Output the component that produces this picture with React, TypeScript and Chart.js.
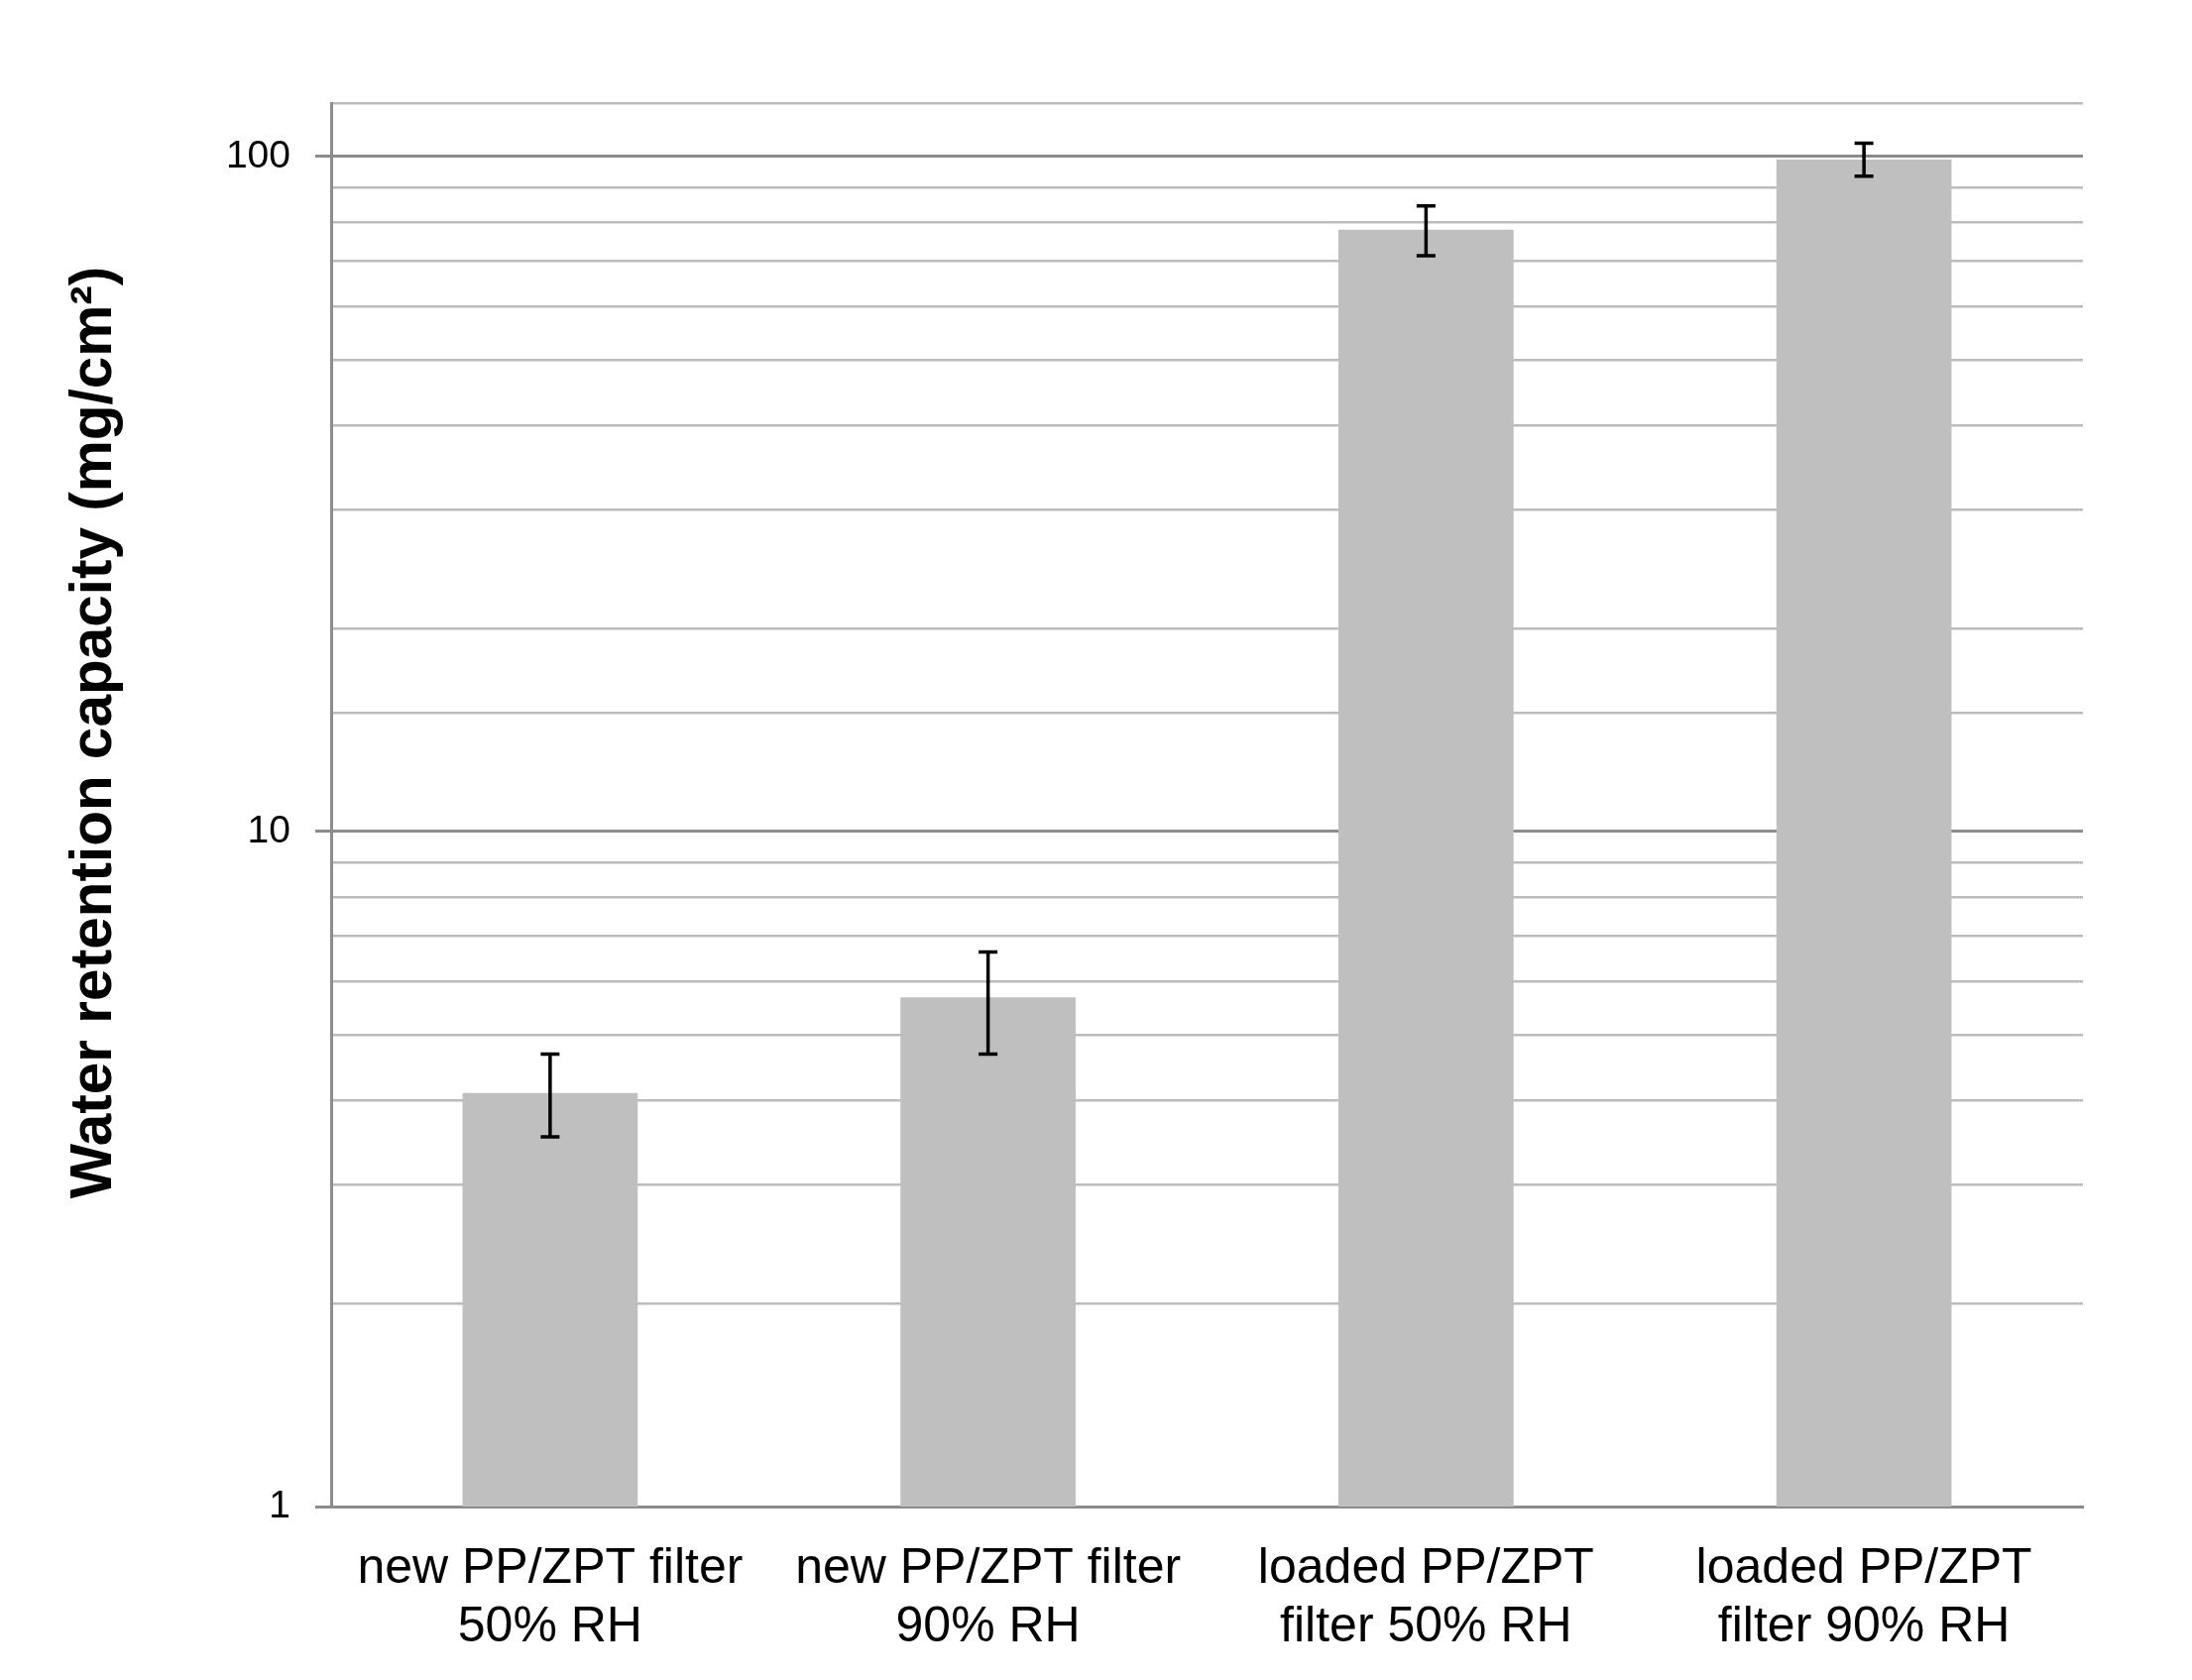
import React, { useEffect, useRef } from "react";
import { Chart, registerables } from "chart.js";

Chart.register(...registerables);

const categories: string[][] = [
  ["new PP/ZPT filter", "50% RH"],
  ["new PP/ZPT filter", "90% RH"],
  ["loaded PP/ZPT", "filter 50% RH"],
  ["loaded PP/ZPT", "filter 90% RH"],
];
const values: number[] = [4.1, 5.68, 77.9, 99.0];
const errLow: number[] = [3.53, 4.68, 71.3, 93.5];
const errHigh: number[] = [4.68, 6.63, 84.5, 104.6];
const yTickLabels: number[] = [1, 10, 100];
const yTitle = "Water retention capacity (mg/cm\u00B2)";

const FONT = "'Liberation Sans', Arial, sans-serif";
const MAJOR = "#8c8c8c";
const MINOR = "#bcbcbc";

const errorBarPlugin = {
  id: "errorBars",
  afterDatasetsDraw(chart: any) {
    const meta = chart.getDatasetMeta(0);
    const ys = chart.scales.y;
    const ctx = chart.ctx;
    ctx.save();
    ctx.strokeStyle = "#000";
    ctx.lineWidth = 3.5;
    meta.data.forEach((bar: any, i: number) => {
      const x = bar.x;
      const yh = ys.getPixelForValue(errHigh[i]);
      const yl = ys.getPixelForValue(errLow[i]);
      const cap = 9.5;
      ctx.beginPath();
      ctx.moveTo(x, yh);
      ctx.lineTo(x, yl);
      ctx.moveTo(x - cap, yh);
      ctx.lineTo(x + cap, yh);
      ctx.moveTo(x - cap, yl);
      ctx.lineTo(x + cap, yl);
      ctx.stroke();
    });
    ctx.restore();
  },
};

const titlePlugin = {
  id: "yTitle",
  afterDraw(chart: any) {
    const ctx = chart.ctx;
    ctx.save();
    ctx.translate(96, 739);
    ctx.rotate(-Math.PI / 2);
    ctx.font = `bold 58.5px ${FONT}`;
    ctx.fillStyle = "#000";
    ctx.textAlign = "center";
    ctx.textBaseline = "middle";
    ctx.fillText(yTitle, 0, 0);
    ctx.restore();
  },
};

export default function App() {
  const canvasRef = useRef<HTMLCanvasElement | null>(null);

  useEffect(() => {
    if (!canvasRef.current) return;
    const isMajor = (v: number) => yTickLabels.includes(v);
    const chart = new Chart(canvasRef.current, {
      type: "bar",
      data: {
        labels: categories,
        datasets: [
          {
            data: values,
            backgroundColor: "#bfbfbf",
            borderWidth: 0,
            barPercentage: 0.4,
            categoryPercentage: 1.0,
          },
        ],
      },
      options: {
        responsive: false,
        animation: false,
        layout: { padding: { left: 0, top: 104, right: 110, bottom: 0 } },
        plugins: {
          legend: { display: false },
          tooltip: { enabled: false },
        },
        scales: {
          x: {
            type: "category",
            grid: { display: false },
            border: { display: true, color: MAJOR, width: 3 },
            ticks: {
              color: "#000",
              padding: 26,
              maxRotation: 0,
              autoSkip: false,
              font: { family: FONT, size: 50, lineHeight: 1.18 },
            },
            afterFit(scale: any) {
              scale.height = 175;
            },
          },
          y: {
            type: "logarithmic",
            min: 1,
            max: 120,
            grid: {
              color: (c: any) => (c.tick && isMajor(c.tick.value) ? MAJOR : MINOR),
              lineWidth: (c: any) => (c.tick && isMajor(c.tick.value) ? 3 : 2.5),
              tickColor: (c: any) =>
                c.tick && isMajor(c.tick.value) ? MAJOR : "rgba(0,0,0,0)",
              tickLength: 16,
              tickWidth: 3,
              drawTicks: true,
            },
            border: { display: true, color: MAJOR, width: 3 },
            ticks: {
              color: "#000",
              padding: 25,
              autoSkip: false,
              font: { family: FONT, size: 39 },
              callback: (v: any) => (isMajor(Number(v)) ? String(v) : ""),
            },
            afterFit(scale: any) {
              scale.width = 334;
            },
          },
        },
      },
      plugins: [errorBarPlugin, titlePlugin],
    });
    return () => chart.destroy();
  }, []);

  return (
    <div style={{ position: "fixed", left: 0, top: 0, width: 2211, height: 1695, background: "#fff" }}>
      <canvas ref={canvasRef} width={2211} height={1695} style={{ display: "block" }} />
    </div>
  );
}
